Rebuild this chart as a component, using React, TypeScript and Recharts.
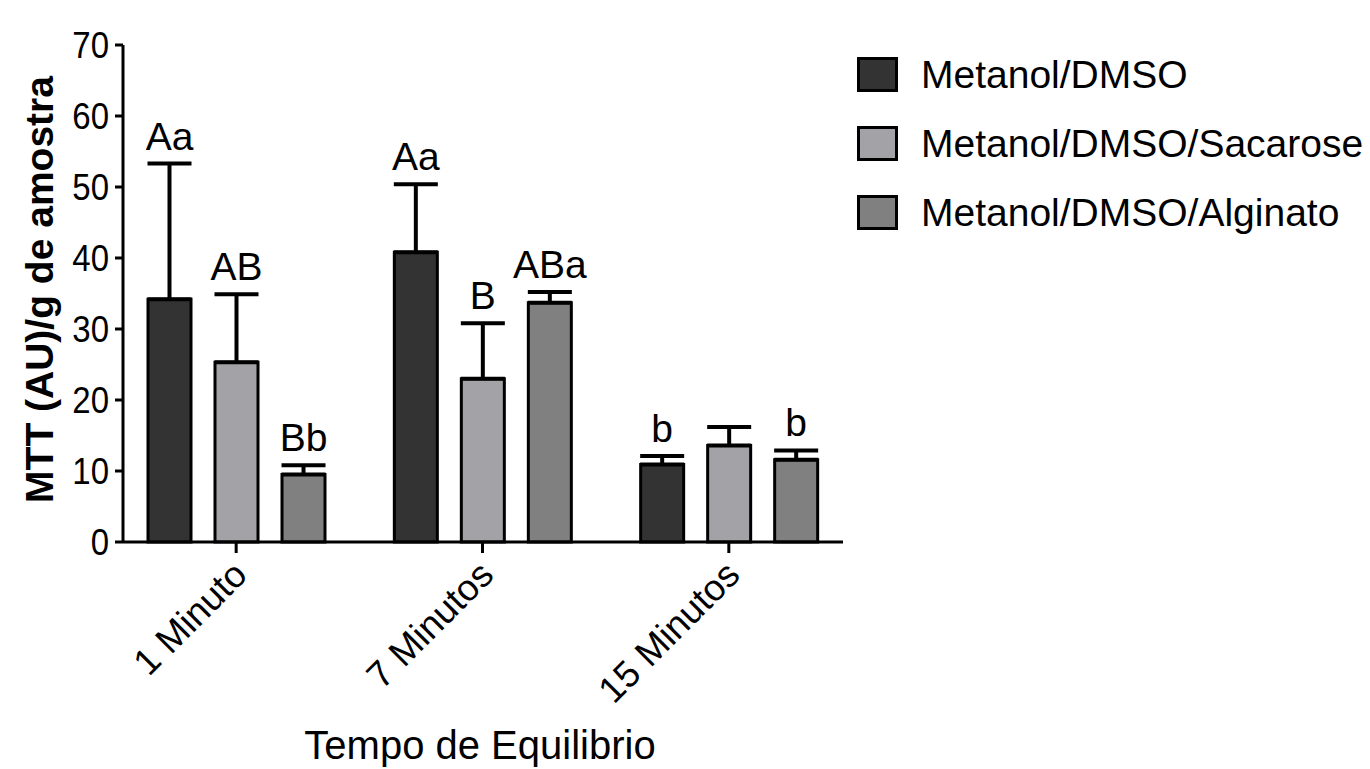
import { BarChart, Bar, XAxis, YAxis, ErrorBar, LabelList, Legend } from 'recharts';

const categories = ['1 Minuto', '7 Minutos', '15 Minutos'];
const seriesNames = ['Metanol/DMSO', 'Metanol/DMSO/Sacarose', 'Metanol/DMSO/Alginato'];
const seriesColors = ['#333333', '#a3a3a7', '#808080'];

const dmso = [34.2, 40.8, 10.9];
const dmsoErr = [19.1, 9.6, 1.2];
const sacarose = [25.3, 23.0, 13.6];
const sacaroseErr = [9.6, 7.8, 2.6];
const alginato = [9.5, 33.7, 11.6];
const alginatoErr = [1.3, 1.5, 1.3];

const dmsoLabels = ['Aa', 'Aa', 'b'];
const sacaroseLabels = ['AB', 'B', ''];
const alginatoLabels = ['Bb', 'ABa', 'b'];

const yTicks = [0, 10, 20, 30, 40, 50, 60, 70];

const FONT = '"Liberation Sans", Arial, sans-serif';

const data = categories.map((c, i) => ({
  name: c,
  s0: dmso[i],
  e0: dmsoErr[i],
  s1: sacarose[i],
  e1: sacaroseErr[i],
  s2: alginato[i],
  e2: alginatoErr[i],
}));

const errs = [dmsoErr, sacaroseErr, alginatoErr];
const labels = [dmsoLabels, sacaroseLabels, alginatoLabels];

function makeLabel(series: number) {
  return (props: any) => {
    const { x, y, width, height, value, index } = props;
    const text = labels[series][index];
    if (!text) return null;
    const errTop = y - (errs[series][index] * height) / value;
    return (
      <text
        x={x + width / 2}
        y={errTop - 14}
        textAnchor="middle"
        fill="#000"
        fontSize={39}
        fontFamily={FONT}
      >
        {text}
      </text>
    );
  };
}

function XTick(props: any) {
  const { x, y, payload } = props;
  return (
    <g transform={`translate(${x + 13},${y + 22})`}>
      <text transform="rotate(-45)" textAnchor="end" fill="#000" fontSize={37} fontFamily={FONT}>
        {payload.value}
      </text>
    </g>
  );
}

function YTick(props: any) {
  const { x, y, payload } = props;
  return (
    <text
      x={x}
      y={y}
      transform={`translate(0, ${y}) scale(1, 1.1) translate(0, ${-y})`}
      textAnchor="end"
      dominantBaseline="central"
      fill="#000"
      fontSize={33}
      fontFamily={FONT}
    >
      {payload.value}
    </text>
  );
}

function LegendBox() {
  return (
    <div style={{ fontFamily: FONT, fontSize: 39, color: '#000' }}>
      {seriesNames.map((n, i) => (
        <div key={n} style={{ display: 'flex', alignItems: 'center', height: 69 }}>
          <div
            style={{
              width: 35,
              height: 29,
              background: seriesColors[i],
              border: '3px solid #000',
              marginRight: 23,
            }}
          />
          <span style={{ whiteSpace: 'nowrap' }}>{n}</span>
        </div>
      ))}
    </div>
  );
}

export default function App() {
  return (
    <div style={{ position: 'fixed', left: 0, top: 0, background: '#fff' }}>
      <BarChart
        width={1370}
        height={769}
        data={data}
        margin={{ top: 45, right: 527, bottom: 0, left: 0 }}
        barSize={43}
        barGap={24}
      >
        <XAxis
          dataKey="name"
          height={227}
          padding={{ left: -10, right: -9 }}
          stroke="#000"
          strokeWidth={3}
          tickSize={11}
          tick={<XTick />}
          interval={0}
          label={(p: any) => {
            const vb = p.viewBox;
            return (
              <text
                x={vb.x + vb.width / 2 - 3}
                y={759}
                textAnchor="middle"
                fill="#000"
                fontSize={40}
                fontFamily={FONT}
              >
                Tempo de Equilibrio
              </text>
            );
          }}
        />
        <YAxis
          width={123}
          domain={[0, 70]}
          ticks={yTicks}
          interval={0}
          stroke="#000"
          strokeWidth={3}
          tickSize={8}
          tickMargin={6}
          tick={<YTick />}
          label={(p: any) => {
            const vb = p.viewBox;
            const cx = 39;
            const cy = vb.y + vb.height / 2 - 4;
            return (
              <text
                x={cx}
                y={cy}
                transform={`rotate(-90, ${cx}, ${cy})`}
                textAnchor="middle"
                dominantBaseline="central"
                fill="#000"
                fontSize={39}
                fontWeight="bold"
                fontFamily={FONT}
              >
                MTT (AU)/g de amostra
              </text>
            );
          }}
        />
        <Legend
          layout="horizontal"
          verticalAlign="middle"
          align="center"
          wrapperStyle={{ top: 40, left: 857, width: 'auto', height: 'auto' }}
          content={<LegendBox />}
        />
        {[0, 1, 2].map((i) => (
          <Bar
            key={i}
            dataKey={`s${i}`}
            name={seriesNames[i]}
            fill={seriesColors[i]}
            stroke="#000"
            strokeWidth={3}
            isAnimationActive={false}
          >
            <ErrorBar
              dataKey={(d: any) => [0, d[`e${i}`]]}
              direction="y"
              width={22}
              stroke="#000"
              strokeWidth={4}
              isAnimationActive={false}
            />
            <LabelList dataKey={`s${i}`} content={makeLabel(i)} />
          </Bar>
        ))}
      </BarChart>
    </div>
  );
}
